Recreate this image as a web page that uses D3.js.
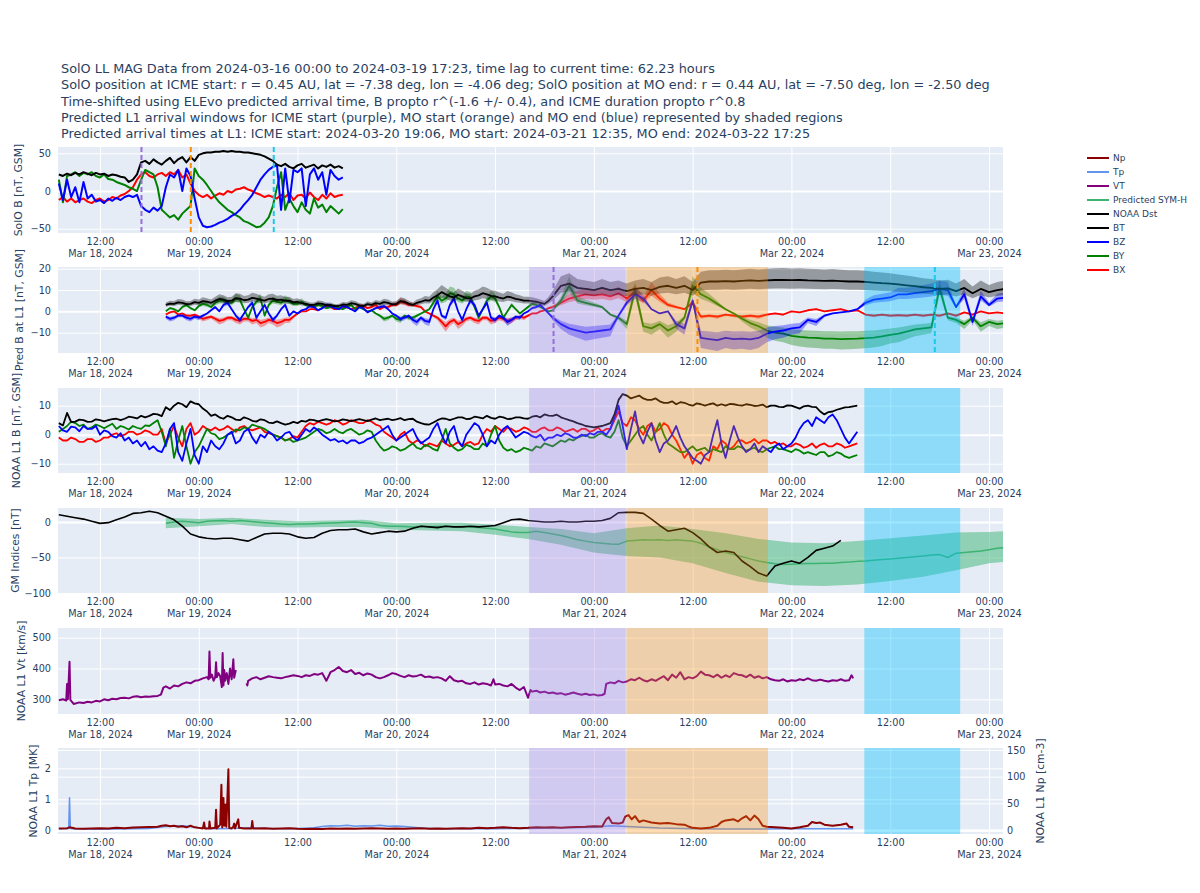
<!DOCTYPE html>
<html>
<head>
<meta charset="utf-8">
<script src="https://cdn.jsdelivr.net/npm/d3@7/dist/d3.min.js"></script>
<style>
html,body{margin:0;padding:0;background:#fff;}
svg text{font-family:"DejaVu Sans",Verdana,sans-serif;fill:#2a3f5f;}
</style>
</head>
<body>
<svg id="chart" width="1200" height="893"></svg>
<script>
// ================= DATA =================
// all times are hours relative to 2024-03-19 00:00 UTC
const titleLines = [
 "SolO LL MAG Data from 2024-03-16 00:00 to 2024-03-19 17:23, time lag to current time: 62.23 hours",
 "SolO position at ICME start: r = 0.45 AU, lat = -7.38 deg, lon = -4.06 deg; SolO position at MO end: r = 0.44 AU, lat = -7.50 deg, lon = -2.50 deg",
 "Time-shifted using ELEvo predicted arrival time, B propto r^(-1.6 +/- 0.4), and ICME duration propto r^0.8",
 "Predicted L1 arrival windows for ICME start (purple), MO start (orange) and MO end (blue) represented by shaded regions",
 "Predicted arrival times at L1: ICME start: 2024-03-20 19:06, MO start: 2024-03-21 12:35, MO end: 2024-03-22 17:25"
];
const legendNames  = ["Np","Tp","VT","Predicted SYM-H","NOAA Dst","BT","BZ","BY","BX"];
const legendColors = ["#8b0000","#6495ed","#800080","#3cb371","#000000","#000000","#0000ff","#008000","#ff0000"];

const yTitles = ["SolO B [nT, GSM]","Pred B at L1 [nT, GSM]","NOAA L1 B [nT, GSM]","GM Indices [nT]","NOAA L1 Vt [km/s]","NOAA L1 Tp [MK]"];
const yTicks  = [[-50,0,50],[-10,0,10,20],[-10,0,10],[-100,-50,0],[300,400,500],[0,1,2]];
const npTicks = [0,50,100,150];
const npTitle = "NOAA L1 Np [cm-3]";

// SolO events (at SolO) and predicted L1 arrivals
const soloEvents = [-6.96, -0.97, 9.11];
const l1Arrivals = [43.10, 60.583, 89.417];
const eventColors = ["#9370db","#ff8c00","#1ec8e8"];
// predicted arrival windows
const windowStart = [40.14, 51.95, 80.85];
const windowEnd   = [51.87, 69.15, 92.50];
const windowColors = ["rgba(160,120,225,0.30)","rgba(255,140,0,0.30)","rgba(0,191,255,0.38)"];
// B propto r^(-1.6 +/- 0.4) uncertainty factors
const bandFactors = [0.727, 1.376];

// ---- Panel 1: SolO B, half-hour samples from -17 h ----
const soloStart = -17, soloStep = 0.5;
const soloBT = [22,20,23,21,24,22,25,23,21,24,22,23,20,22,21,19,18,
 12,15,22, 38,
 40,36,42,38,35,40,44,37,42,45,38,
 45,40,48,
 50,51,51,52,52,53,52,53,52,52,51,51,
 50,49,48,46,43,40,
 35,33,36,32,30,34,36,31,33,35,30,34,32,35,31,33,30];
const soloBZ = [10,-12,15,-8,5,-15,12,-10,-5,-14,-12,-16,-10,-13,-9,-12,-8,
 -6,-8,-5, -20,
 -25,-28,-22,-26,-20,5,22,18,28,0,30,
 20,-10,-35,
 -46,-48,-47,-45,-42,-40,-37,-33,-30,-25,-18,-12,
 -5,5,15,22,28,32,
 35,-25,30,-15,28,25,30,-20,22,30,15,25,-5,28,20,15,18];
const soloBY = [15,-15,20,22,25,20,24,22,25,20,18,22,16,15,12,10,8,
 5,3,0, 15,
 28,25,22,5,-25,-30,-35,-32,-38,-30,-25,
 -20,30,20,
 15,8,0,-8,-15,-20,-25,-28,-32,-35,-40,-42,
 -45,-48,-47,-42,-35,-20,
 5,25,-25,-10,-20,-28,-15,-25,-30,-10,-22,-18,-28,-20,-25,-30,-24];
const soloBX = [-12,-8,-14,-10,-15,-12,-10,-14,-16,-12,-10,-14,-12,-8,-10,-6,-4,
 0,5,15, 22,
 25,20,18,22,24,20,25,22,28,18,22,
 10,0,-5,
 -8,-5,-10,-6,-3,-5,0,-2,2,3,5,2,
 0,-3,-5,-8,-6,-8,
 -10,-5,-8,-3,-12,-6,-5,-10,-2,-8,-12,-5,-10,-3,-8,-6,-5];

// ---- Panel 2: predicted B at L1: half-hourly from -4 h (pre-ICME), hourly from 43 h ----
const predPreStart = -4, predPreStep = 0.5;
const predIcmeStart = 43, predIcmeStep = 1;
const predBTpre = [3.0,3.6, 3.5,4.2, 4,3.4, 3.5,4.3, 4,4.8, 4.5,4, 5,5.8, 5.5,4.8, 5,6.2, 6,5.2,
 5.5,6.3, 6,5.4, 5,5.8, 6,5.3, 5.5,4.9, 5,4.2, 4.5,3.8, 3.5,3, 3,3.7, 3.5,2.9,
 3,2.4, 2.5,3.2, 3,3.8, 3.5,2.8, 2.5,3.4, 3,3.9, 3.5,4.3, 4,3.3, 3.5,4.8, 4.5,3.6,
 3,4, 4.5,5.2, 5,6.5, 7.5,9, 8,7, 6.5,7.8, 7,6.2, 6,7, 7.5,8.5, 8,7.3,
 7,6.4, 6,6.9, 6.5,5.8, 5.5,5, 5,4.8, 4.5,4, 3.5,5];
const predBZpre = [-2.5,-3.5, -3,-2, -2,-3, -3.5,-2.5, -3,-2, -1,0.5, 2,0, 3,4, 1,-2, -4,-1,
 2,4, -3,0, 3,-1, -4,-2, 1,3, -2,0, -1,0.5, 1,2.5, 2,0.5, 1.5,3,
 2.5,1.5, 1,2.5, 2,1, 0,2, 1.5,-0.5, 0.5,1.5, 2,2.5, 1,-1, -2,-3.5, -3,-2,
 -4,-5, -3,-4.5, -5,1, 5,-2, -3,3, 6,0, -4,1, 5,3, -2,1, 4,-3,
 -4,-2, -3,-5, -4,-2.5, -3,-1, 0,1.5, 2,3, 1,-1];
const predBYpre = [0,1.5, 1,0, 2,3, 1.5,0.5, 2.5,3.5, 3,2, 4,5, 5,4, 4,6, 5.5,1,
 -3,2, 4.5,6, -2,3, 5,4.5, 4,5.5, 4.5,3.5, 3.5,4.5, 3,2.5, 2,3, 2.5,1.5,
 2,2.5, 1.5,1, 2,3, 1,2, 1,0, 0.5,-1, -2,-3.5, -3,-2, -3.5,-4, -2,-3,
 -3,-2, -1,0, 1,4, 7,5, 6,8.5, 8,6, 5,7, 6.5,2, -3,1, 5,7,
 6,2, -3,0, 3,1, -1,0.5, 2,3.5, 3,2, 1,0];
const predBXpre = [-1.5,-0.5, 0,-1.5, -1,-2, -2,-1.5, -2.5,-3.5, -3,-2.5, -3.5,-4.5, -4,-3, -3,-4, -4.5,-3.5,
 -3.5,-4.5, -4,-5.5, -5,-4, -4.5,-5.5, -5,-4, -4,-2.5, -1,0, 0,1, 1,0.5, 1.5,2.5,
 2,1, 1,2, 2,1, 1.5,2.5, 2.5,1.5, 2,3, 1,2, 2,3, 3,4.5, 4,3,
 3,2.5, 2,0, -1,-2, -3,-5, -7,-5, -4,-6, -5,-3.5, -3,-4, -4.5,-3, -3,-4.5,
 -4,-3, -3.5,-4.5, -4,-3, -2.5,-3, -2,-1, -1,0, 0.5,1.5];
const predBTicme = [7,12,13,11,10.5,10,11,10,10.5,9.5,10.5,11,10,11.5,12,11,12,10,13.5,14,14,14.2,14,14.3,14.5,14.3,14.5,14.7,14.8,14.6,14.7,14.5,14.4,14.3,14.4,14.2,14,14,13.8,13.5,13.2,13,12.6,12.2,11.8,11.3,11,10.5,10.8,9.5,11,8.5,10.5,9,10,10.5];
const predBZicme = [-3,-6,-8,-9,-10,-9.5,-9,-8.5,-2,4,8,6,1,-1,0,-6,-8,5,-12.5,-13,-13.5,-12.5,-13,-12.8,-13.2,-12.5,-10.5,-9.5,-9,-8,-7.5,-4,-5,-2,-1,-0.5,0,1,4,5.5,6,6.5,8,8,8.5,9,9.5,10.5,10,2,8,-5,7,3,6,6.5];
const predBYicme = [0.5,5,12,5,4,3,2,-1.5,-3,-6,10,-7,-8,-6,-9,-7,-3,12,8,6,3.5,1,-1,-3.5,-5.5,-7,-9,-10,-10.5,-11.5,-12,-12.3,-12.5,-12.8,-12.8,-13,-12.9,-12.8,-12.6,-12.3,-11.8,-11,-10.5,-9.5,-8.5,-8,-7.5,11,-3,-4,-6,-3,-7,-5,-6,-5.5];
const predBXicme = [2,4,6,7,8,7.5,8,7,8.5,6,9,5,10,6,3,2,1,4,-2.5,-2,-2.5,-1.5,-2,-2.5,-2,-2.5,-1.5,-1,-1.5,0,-0.5,0.5,1,0,0.5,1,0,0.5,-1.5,-2,-1.5,-2,-1.8,-2,-1.5,-2,-1.5,-2,-1,-2,-0.5,-1.5,0,-1,-0.5,-1];

// ---- Panel 3: NOAA L1 B, half-hour samples from -17 h ----
const l1Start = -17, l1Step = 0.5;
const l1BT = [4,3.2, 7.5,4.3, 4.5,5.2, 5,4.4, 4.5,5.3, 5,4.6, 5,5.4, 5.5,5, 5.5,6.2, 6,5.6,
 6.5,6, 6.5,7.2, 7,6.4, 9.5,8.5, 10,11, 10.5,9.5, 11.5,10.8, 10.5,9, 8,6.5, 7,6,
 5.5,6.5, 6,5.2, 5,6, 5.5,4.8, 4.5,5.3, 5,4.2, 4,4.6, 4,3.5, 3.8,4.4, 4,4.8,
 4.5,5.2, 5,4.6, 5,5.4, 5,4.6, 4.8,5.3, 5,4.7, 5,5.4, 5,4.7, 5.2,5.6, 5,5.3,
 5.5,5, 5.3,5.7, 5,5.4, 5.5,4.5, 4,3.6, 3.5,4.2, 5,5.6, 5.5,5, 5.5,6, 6,5.4,
 5.5,6.2, 6,5.6, 6.5,5.8, 5.5,6.2, 6,5.4, 5.5,6, 6,5.6, 5.5,6.2, 6.5,6, 7,6.6,
 6.5,6.9, 6,5.5, 5,4.6, 4,3.6, 3,2.8, 2.5,2.8, 3,3.5, 4,7, 12,14, 13.5,12.5,
 13,13.5, 12.5,12, 12,12.5, 11.5,11, 11,11.5, 10.5,11.2, 11,10.4, 10,10.8, 10.5,10, 10.5,10.8,
 10,10.5, 10,10.6, 10.5,10.2, 10,10.5, 10.3,9.9, 10,10.4, 9.5,10, 10,9.6, 9.5,10.1, 10,9.5,
 9,9.8, 10,9.6, 9.5,8, 7,7.8, 8,8.6, 9,9.4, 9.5,9.8, 10];
const l1BZ = [3,1.5, 1,2.8, 2.5,1.2, 3,2, 2,3, 0,1.5, 1,-0.5, -1,0.5, -2,-1, -3,-2,
 -4,-2.5, -5,-4, -5.5,-6, -3,2, 4,-6, -9,-3, 2,-7, -10,-4, -6,-2, -4,-5,
 -3,0, 1,-3, -2,1, 2,-1, -3,0, -1,1, 0,-2, -1,0.5, 1,-1, -2,0,
 2,1, 2.5,1.5, 0,-1, -2,-1.5, -2.5,-2, -3,-2, -2,-3, -2.5,-1.5, -1,0, 1,2,
 3,0, -2,-1, 0,1, 2,-1, -3,-2, -1,2, 4,0, -3,1, 3,-2, -4,0,
 2,4, 3,0, -4,-2, -3,0, 2,3, 1,-1, 0,1, 0.5,-0.5, -1,0, -2,-1,
 -1,0, -0.5,0.5, 0,-1, -1,0, -0.5,0.5, 0,1, 1,0, 2,6, 10,3, -5,2,
 8,0, -3,1, 4,-2, -6,-3, -2,0, 3,-1, -4,-6, -8,-9, -10,-7, -6,0,
 5,-3, -8,-2, 3,-1, -4,-6, -5,-3, -6,-4, -5,-6, -4,-3, -5,-4, -3,-1,
 2,4, 5,3, 6,5, 4,6, 7,5, 2,-1, -3,-1, 1];
const l1BY = [1,2, 3,4.5, 4,3, 3.5,2, 2.5,3.5, 3,2.2, 3,3.8, 2,3, 2.5,1.8, 3,2.4,
 2,3.2, 3,4, 5,1, -4,2, -8,-2, 3,-4, -10,-6, -4,-1, 2,0.5, 0,-1.5,
 -1,0, 0.5,1.8, 1.5,2.5, 2,3.5, 3,2.5, 2,1, 0,-0.5, -1,-2, -1.5,-2.5, -2,-1.5,
 -1,0, 1,2, 1.5,0.5, 1,2, 1,0.5, 1.5,2, 1,0, 0.5,1.5, 1,-2, -4,-5.5,
 -5,-4, -4.5,-5.5, -5,-4, -3,-4.5, -5,-3.5, -4,-5, -5.5,-2, 2,-3, -4.5,-5.5, -5,-3.5,
 -4,-5, -5,-3, -4,0, 3,-2, -4.5,-5.5, -5,-6, -5.5,-4.5, -5,-5.5, -4,-4.5, -3,-3.5,
 -4,-3, -2,-2.5, -1.5,-2, -1,-0.5, 0,-1, -1,0, 0.5,-0.5, -1,1, 5,-1, -4,-2,
 0,2, 3,0, -2,1, 4,0, -3,-4, -5,-6, -6,-5, -4,-5.5, -5,-4.5, -6,-5,
 -5.5,-6, -4,-5, -5,-4, -4.5,-5.5, -5,-4.5, -5.5,-6, -5,-4.5, -4,-5, -5,-5.5, -6,-5,
 -5.5,-6.5, -6,-6.5, -7,-6, -6,-7.5, -7,-6, -6.5,-7.5, -8,-7.5, -7];
const l1BX = [-1,-2, -2,-1, -1.5,-2.5, -2.5,-1.5, -1.5,-2.5, -2,-1, -1,0, 0.5,-0.5, 0,1, 1,0,
 0.5,1.5, 1,0, 0,2, -3,0, 3,-1, -4,2, 4,0, 1,3, 2,1.5, 2.5,1.5,
 2,3, 2,1, 2.5,3, 2,1.5, 2,2.5, 1,0.5, 0,-0.5, -1,-2, -1.5,-0.5, -1,1,
 3,4, 3.5,4.5, 4,3.5, 4,5, 4.5,3.5, 4,5, 4.5,4, 4,5, 4.5,3.5, 3,1,
 0,-1, -2,0, 1,-2, -3,-2, -2.5,-4, -3,-3.5, -4,-2, -3,-4, -3.5,-2.5, -4,-3,
 -2.5,-3.5, -3,0, 2,1, 3,2, 1,2.5, 2,1, 1.5,2.5, 2,1, 1,2, 2.5,1.5,
 1.5,2.5, 2,1, 1.5,2, 1,2, 2,1, 1.5,2.5, 1,2, 2,5, 8,4, 3,6,
 5,2, 0,3, 4,1, 2,4, 3,0, -2,-5, -8,-6, -10,-7, -6,-8, -9,-4,
 -5,-2, -3,-5, -4,-2, -2,-3, -2.5,-1.5, -3,-2, -2,-3, -2.5,-3.5, -3,-4, -4,-3,
 -3.5,-4.5, -4,-3, -4.5,-3.5, -3,-4, -4,-3, -3.5,-4.5, -4,-3.5, -3];

// ---- Panel 4: NOAA Dst hourly from -17 h; predicted SYM-H hourly from -4 h ----
const dstStart = -17, dstStep = 1;
const dst = [10,8,6,4,1,-2,-1,3,7,12, 13,15,13,8,3,-6,-17,-21,-23,-24, -23,-23,-25,-27,-22,-17,-16,-16,-17,-21,
 -23,-22,-16,-12,-11,-11,-10,-14,-17,-15, -13,-14,-13,-9,-6,-7,-8,-6,-7,-7, -6,-7,-6,-5,-1,3,4,2,1,0,
 0,1,0,0,1,1,2,5,13,13.5, 13.5,12,4,-5,-13,-11,-9,-15,-24,-35, -43,-41,-43,-55,-63,-72,-76,-62,-58,-55, -58,-50,-40,-37,-34,-26];
const symhStart = -4, symhStep = 1;
const symh = [-2,0,1,0,-1,1,1.5,2,1,2, 1,0,-1,-2,-3,-3.5,-3,-3,-2.5,-2, -1.5,-1,-0.5,0,-1,-2,-5,-6,-6,-6.5,
 -7,-6,-7,-6.5,-6,-7,-6.5,-7,-8,-9, -10,-12,-14,-15,-15,-13,-15,-17,-19,-22, -25,-27,-29,-30,-31,-31.5,-27,-26,-25,-25.5,
 -25,-26,-25,-26,-27,-30,-35,-39,-43,-46, -49,-52,-55,-57,-59,-60,-59.5,-59,-58.5,-58.5, -58,-58,-57,-56.5,-55.5,-55,-54,-53,-52,-51,
 -50,-49,-48,-46.5,-46,-50,-44,-43,-42,-41, -39,-37,-36];
const symhBandTime  = [-4,0,4,8,12,16,20,24,28,32,36,40,44,48,52,56,60,64,68,72,76,80,84,88,92,96,98];
const symhBandUpper = [6,4,6,3,1,2,3,-2,-1,-1,-4,-7,-10,-16,-9,-5,-10,-16,-24,-29,-30,-27,-23,-19,-15,-14,-13];
const symhBandLower = [-9,-6,-3,-7,-8,-7,-7,-11,-12,-13,-18,-24,-32,-43,-48,-50,-58,-72,-84,-89,-90,-88,-83,-77,-68,-58,-56];

// ---- Panel 5: NOAA L1 Vt [time h, km/s]; null = data gap ----
const vtPoints = [[-17,297],[-16.5,300],[-16.1,296],[-16.0,350],[-15.9,300],[-15.7,422],[-15.6,298],[-15.2,285],[-14.5,290],[-14,288],[-13.5,292],[-13,290],[-12.5,295],[-12,293],[-11.5,300],[-11,297],[-10.5,302],[-10,300],[-9.5,304],[-9,305],[-8.5,303],[-8,308],[-7.5,310],[-7,307],[-6.5,309],[-6,308],[-5.5,310],[-5,311],[-4.6,315],[-4.3,338],[-4,342],[-3.5,335],[-3,345],[-2.5,342],[-2,350],[-1.5,355],[-1,352],[-0.5,360],[0,362],[0.5,368],[1.0,372],[1.2,365],[1.3,455],[1.4,370],[1.6,380],[1.8,360],[2.0,372],[2.1,420],[2.2,372],[2.4,385],[2.6,375],[2.8,340],[2.9,450],[3.0,345],[3.1,395],[3.2,360],[3.4,385],[3.6,350],[3.8,400],[4.0,365],[4.2,430],[4.3,370],[4.5,395],[4.7,null],[5.3,360],[5.4,null],[5.8,352],[5.9,345],[6.0,360],[6.5,368],[7,372],[7.5,365],[8,370],[8.5,375],[9,372],[9.5,370],[10,368],[10.5,372],[11,375],[11.5,378],[12,376],[12.5,372],[13,378],[13.5,376],[14,382],[14.5,380],[15,385],[15.5,360],[16,388],[16.5,395],[17,405],[17.5,392],[18,388],[18.5,395],[19,382],[19.5,386],[20,378],[20.5,384],[21,380],[21.5,372],[22,368],[22.5,372],[23,378],[23.5,385],[24,382],[24.5,376],[25,372],[25.5,378],[26,374],[26.5,376],[27,380],[27.5,372],[28,374],[28.5,370],[29,372],[29.5,368],[30,360],[30.5,375],[31,362],[31.5,358],[32,360],[32.5,352],[33,350],[33.5,355],[34,348],[34.5,352],[35,350],[35.5,345],[35.8,365],[36,348],[36.5,350],[37,345],[37.5,342],[38,350],[38.5,338],[39,330],[39.5,340],[40,305],[40.3,330],[40.5,325],[41,328],[41.5,322],[42,325],[42.5,320],[43,322],[43.5,318],[44,320],[44.5,315],[45,318],[45.5,322],[46,318],[46.5,315],[47,318],[47.5,314],[48,316],[48.5,312],[49,314],[49.3,318],[49.5,350],[50,355],[50.5,352],[51,360],[51.5,355],[52,358],[52.5,365],[53,362],[53.5,370],[54,362],[54.5,358],[55,365],[55.5,360],[56,368],[56.5,375],[57,362],[57.5,380],[58,370],[58.5,388],[59,365],[59.5,372],[60,368],[60.5,375],[61,390],[61.5,380],[62,378],[62.5,372],[63,380],[63.5,370],[64,378],[64.5,372],[65,385],[65.5,380],[66,378],[66.5,372],[67,380],[67.5,370],[68,375],[68.5,368],[69,372],[69.5,365],[70,362],[70.5,360],[71,365],[71.5,358],[72,362],[72.5,360],[73,365],[73.5,362],[74,368],[74.5,362],[75,360],[75.5,364],[76,360],[76.5,358],[77,362],[77.5,360],[78,365],[78.5,360],[79,362],[79.3,378],[79.5,368]];

// ---- Panel 6: NOAA L1 Tp [h, MK] and Np [h, cm-3] ----
const tpPoints = [[-17,0.05],[-16,0.05],[-15.8,0.06],[-15.7,1.05],[-15.6,0.06],[-15,0.04],[-12,0.03],[-10,0.04],[-8,0.05],[-6,0.06],[-4,0.12],[-2,0.15],[-1,0.12],[0,0.08],[2,0.05],[4,0.06],[6,0.08],[8,0.06],[10,0.05],[12,0.06],[14,0.08],[15,0.12],[16,0.15],[17,0.14],[18,0.16],[19,0.13],[20,0.15],[21,0.14],[22,0.16],[23,0.13],[24,0.14],[25,0.12],[26,0.1],[27,0.07],[28,0.06],[30,0.05],[33,0.06],[36,0.05],[40,0.06],[44,0.08],[48,0.1],[50,0.15],[52,0.12],[54,0.1],[56,0.07],[60,0.05],[64,0.04],[68,0.04],[72,0.05],[76,0.05],[79.5,0.05]];
const npPoints = [[-17,3],[-16,3.5],[-15.7,5],[-15,3],[-14,2.5],[-13,3],[-12,3.5],[-11,3],[-10,4],[-9,3.5],[-8,4.5],[-7,5],[-6,5.5],[-5,6],[-4.5,8],[-4,9],[-3.5,7],[-3,8],[-2.5,6],[-2,7],[-1.5,5],[-1,8],[-0.5,5],[0,4],[0.5,3],[0.65,14],[0.75,3],[1.25,3],[1.3,16],[1.4,3],[2.0,4],[2.1,38],[2.2,3],[2.6,10],[2.75,85],[2.85,5],[3.0,60],[3.1,8],[3.25,48],[3.35,6],[3.5,70],[3.6,114],[3.7,4],[4.0,3],[4.2,6],[4.3,12],[4.4,3],[4.8,20],[4.9,4],[5.5,3],[6.4,3],[6.5,17],[6.6,3],[7,3],[8,3.5],[9,2.5],[10,3],[11,3.5],[12,2.5],[13,2],[14,2.5],[15,2],[16,3],[17,2.5],[18,3],[19,2.5],[20,3],[21,3.5],[22,3],[23,2.5],[24,3],[25,2.5],[26,3],[27,3.5],[28,2.5],[29,3],[30,2.5],[31,3],[32,3.5],[33,3],[34,4],[35,3.5],[36,4],[37,5],[38,4],[39,3.5],[40,4],[41,5],[42,4.5],[43,5],[44,4],[45,5],[46,5.5],[47,6],[48,7],[49,6.5],[49.5,20],[49.8,24],[50.2,13],[51,12],[51.5,14],[51.8,25],[52.2,28],[52.6,20],[53,26],[53.5,15],[54,18],[55,14],[56,12],[57,13],[58,11],[59,10],[59.6,6],[60,4],[61,3],[62,4],[63,8],[63.5,15],[64,18],[65,20],[65.5,16],[66,22],[66.5,26],[67,18],[67.5,27],[68,20],[68.5,8],[69,6],[70,5],[71,4],[72,3],[73,5],[74,8],[74.5,15],[75,13],[75.5,14],[76,10],[77,8],[78,10],[78.7,12],[79,6],[79.5,5]];

// ================= DRAWING =================
const BASE = Date.UTC(2024, 2, 19, 0, 0);
const toDate = h => new Date(BASE + h * 3600000);
const regular = (start, step, vals) => vals.map((v, i) => ({t: toDate(start + i * step), v}));
const paired = pts => pts.map(p => ({t: toDate(p[0]), v: p[1]}));
const numFmt = d => (d < 0 ? "\u2212" : "") + Math.abs(d);

const svg = d3.select("#chart");
const X0 = 58, X1 = 1003;
const x = d3.scaleUtc().domain([toDate(-17.1), toDate(97.7)]).range([X0, X1]);

const panels = [
 {top:147, h:86, dom:[-55.7, 58.4], tx:18},
 {top:267, h:86, dom:[-19.55, 20.8], tx:19},
 {top:388, h:85, dom:[-13.2, 16.1], tx:16},
 {top:508, h:85, dom:[-100, 19.6], tx:15},
 {top:628, h:86, dom:[252.3, 531.5], tx:21},
 {top:748, h:86, dom:[-0.12, 2.655], tx:33}
];

const TXT = "#2a3f5f";
const TICK_FS = 9.7, TITLE_FS = 12.85, AX_FS = 10.8, LEG_FS = 9;

titleLines.forEach((s, i) => {
  svg.append("text").attr("x", 61).attr("y", 73 + i * 16.3).attr("font-size", TITLE_FS).text(s);
});

function styleText(sel, size) {
  sel.attr("font-family", null).attr("font-size", null);
  sel.selectAll("text").attr("font-size", size).style("fill", TXT);
}

panels.forEach((p, idx) => {
  const y = d3.scaleLinear().domain(p.dom).range([p.top + p.h, p.top]);
  p.y = y;
  const g = svg.append("g");
  g.append("rect").attr("x", X0).attr("y", p.top).attr("width", X1 - X0).attr("height", p.h).attr("fill", "#E5ECF6");

  const vg = g.append("g").attr("transform", `translate(0,${p.top + p.h})`)
    .call(d3.axisBottom(x).ticks(d3.utcHour.every(12)).tickSize(-p.h).tickFormat(""));
  vg.select(".domain").remove();
  vg.selectAll("line").attr("stroke", "#fff").attr("stroke-width", 1);

  const hg = g.append("g").attr("transform", `translate(${X0},0)`)
    .call(d3.axisLeft(y).tickValues(yTicks[idx]).tickSize(-(X1 - X0)).tickFormat(""));
  hg.select(".domain").remove();
  hg.selectAll("line").attr("stroke", "#fff").attr("stroke-width", d => d === 0 ? 2 : 1);

  if (idx === 5) {
    const yR = d3.scaleLinear().domain([-7.5, 153.75]).range([p.top + p.h, p.top]);
    p.yR = yR;
    const rg = g.append("g").attr("transform", `translate(${X0},0)`)
      .call(d3.axisLeft(yR).tickValues(npTicks).tickSize(-(X1 - X0)).tickFormat(""));
    rg.select(".domain").remove();
    rg.selectAll("line").attr("stroke", "#fff").attr("stroke-width", d => d === 0 ? 2 : 1);
  }

  svg.append("clipPath").attr("id", "clip" + idx).append("rect")
    .attr("x", X0).attr("y", p.top).attr("width", X1 - X0).attr("height", p.h);
  p.data = svg.append("g").attr("clip-path", `url(#clip${idx})`);
  p.over = svg.append("g").attr("clip-path", `url(#clip${idx})`);

  const xa = svg.append("g").attr("transform", `translate(0,${p.top + p.h})`)
    .call(d3.axisBottom(x).ticks(d3.utcHour.every(12)).tickSize(0).tickPadding(0));
  xa.select(".domain").remove();
  xa.selectAll(".tick text").each(function (d, i) {
    const t = d3.select(this);
    t.text(null).attr("y", null).attr("dy", null);
    t.append("tspan").attr("x", 0).attr("y", 11.5).text(d3.utcFormat("%H:%M")(d));
    if (i === 0 || d.getUTCHours() === 0)
      t.append("tspan").attr("x", 0).attr("y", 24).text(d3.utcFormat("%b %-d, %Y")(d));
  });
  styleText(xa, TICK_FS);

  const ya = svg.append("g").attr("transform", `translate(${X0},0)`)
    .call(d3.axisLeft(y).tickValues(yTicks[idx]).tickFormat(numFmt).tickSize(0).tickPadding(7));
  ya.select(".domain").remove();
  styleText(ya, TICK_FS);

  svg.append("text").attr("transform", `translate(${p.tx},${p.top + p.h / 2}) rotate(-90)`)
    .attr("text-anchor", "middle").attr("dominant-baseline", "central").attr("font-size", AX_FS).text(yTitles[idx]);

  if (idx === 5) {
    const ra = svg.append("g").attr("transform", `translate(${X1},0)`)
      .call(d3.axisRight(p.yR).tickValues(npTicks).tickFormat(numFmt).tickSize(0).tickPadding(4));
    ra.select(".domain").remove();
    styleText(ra, TICK_FS);
    svg.append("text").attr("transform", `translate(1040,${p.top + p.h / 2}) rotate(-90)`)
      .attr("text-anchor", "middle").attr("dominant-baseline", "central").attr("font-size", AX_FS).text(npTitle);
  }
});

function drawLine(layer, data, y, color, w) {
  layer.append("path").datum(data)
    .attr("fill", "none").attr("stroke", color).attr("stroke-width", w).attr("stroke-linejoin", "round")
    .attr("d", d3.line().defined(d => d.v !== null).x(d => x(d.t)).y(d => y(d.v)));
}

// Panel 1
{
  const p = panels[0];
  [[soloBX, "#ff0000"], [soloBY, "#008000"], [soloBZ, "#0000ff"], [soloBT, "#000000"]].forEach(([arr, c]) =>
    drawLine(p.data, regular(soloStart, soloStep, arr), p.y, c, 2));
}
// Panel 2 with uncertainty bands
{
  const p = panels[1];
  [[predBXpre, predBXicme, "255,0,0"], [predBYpre, predBYicme, "0,128,0"],
   [predBZpre, predBZicme, "0,0,255"], [predBTpre, predBTicme, "0,0,0"]].forEach(([pre, icme, c]) => {
    const d = regular(predPreStart, predPreStep, pre).concat(regular(predIcmeStart, predIcmeStep, icme));
    p.data.append("path").datum(d).attr("fill", `rgba(${c},0.35)`).attr("stroke", "none")
      .attr("d", d3.area().x(q => x(q.t))
        .y0(q => p.y(Math.min(q.v * bandFactors[0], q.v * bandFactors[1])))
        .y1(q => p.y(Math.max(q.v * bandFactors[0], q.v * bandFactors[1]))));
    drawLine(p.data, d, p.y, `rgb(${c})`, 1.8);
  });
}
// Panel 3
{
  const p = panels[2];
  [[l1BX, "#ff0000"], [l1BY, "#008000"], [l1BZ, "#0000ff"], [l1BT, "#000000"]].forEach(([arr, c]) =>
    drawLine(p.data, regular(l1Start, l1Step, arr), p.y, c, 1.8));
}
// Panel 4
{
  const p = panels[3];
  const band = symhBandTime.map((t, i) => ({t: toDate(t), lo: symhBandLower[i], hi: symhBandUpper[i]}));
  p.data.append("path").datum(band).attr("fill", "rgba(60,179,113,0.5)")
    .attr("d", d3.area().x(q => x(q.t)).y0(q => p.y(q.lo)).y1(q => p.y(q.hi)));
  drawLine(p.data, regular(symhStart, symhStep, symh), p.y, "#3cb371", 1.5);
  drawLine(p.data, regular(dstStart, dstStep, dst), p.y, "#000000", 1.6);
}
// Panel 5
{
  const p = panels[4];
  drawLine(p.data, paired(vtPoints), p.y, "#800080", 2);
}
// Panel 6
{
  const p = panels[5];
  drawLine(p.data, paired(tpPoints), p.y, "#6495ed", 1.5);
  drawLine(p.data, paired(npPoints), p.yR, "#8b0000", 2);
}

// shaded arrival windows (drawn above traces) for panels 2-6
panels.forEach((p, idx) => {
  if (idx === 0) return;
  windowStart.forEach((s, i) => {
    p.over.append("rect").attr("x", x(toDate(s))).attr("y", p.top)
      .attr("width", x(toDate(windowEnd[i])) - x(toDate(s))).attr("height", p.h)
      .attr("fill", windowColors[i]);
  });
});
// dashed event lines
[[0, soloEvents], [1, l1Arrivals]].forEach(([idx, evs]) => {
  const p = panels[idx];
  evs.forEach((e, i) => {
    p.over.append("line").attr("x1", x(toDate(e))).attr("x2", x(toDate(e)))
      .attr("y1", p.top).attr("y2", p.top + p.h)
      .attr("stroke", eventColors[i]).attr("stroke-width", 2).attr("stroke-dasharray", "5,3");
  });
});

// legend
legendNames.forEach((n, i) => {
  const yy = 158 + i * 14;
  svg.append("line").attr("x1", 1087).attr("x2", 1109).attr("y1", yy).attr("y2", yy)
    .attr("stroke", legendColors[i]).attr("stroke-width", 2);
  svg.append("text").attr("x", 1113).attr("y", yy).attr("dominant-baseline", "central")
    .attr("font-size", LEG_FS).text(n);
});
</script>
</body>
</html>
